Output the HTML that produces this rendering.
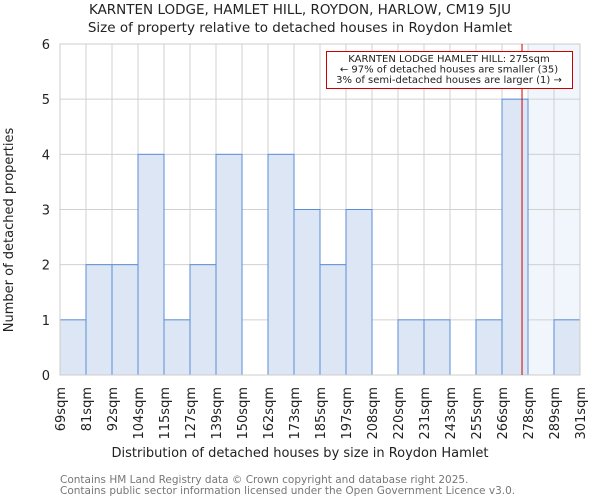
<!DOCTYPE html>
<html><head><meta charset="utf-8"><style>
body{margin:0;background:#fff;font-family:"DejaVu Sans","Liberation Sans",sans-serif;}
svg text{font-family:"DejaVu Sans","Liberation Sans",sans-serif;}
</style></head><body>
<svg id="c" width="600" height="500" xmlns="http://www.w3.org/2000/svg">
<text x="300" y="14" text-anchor="middle" font-size="13.5" fill="#222">KARNTEN LODGE, HAMLET HILL, ROYDON, HARLOW, CM19 5JU</text>
<text x="300" y="32" text-anchor="middle" font-size="13.5" fill="#222">Size of property relative to detached houses in Roydon Hamlet</text>
<g id="grid"></g>
<g id="bars"></g>
<g id="axes"></g>
<text x="300" y="457" text-anchor="middle" font-size="13" fill="#222">Distribution of detached houses by size in Roydon Hamlet</text>
<text transform="translate(13,230) rotate(-90)" text-anchor="middle" font-size="13" fill="#222">Number of detached properties</text>
<text x="60" y="483" font-size="10.5" fill="#777">Contains HM Land Registry data © Crown copyright and database right 2025.</text>
<text x="60" y="494" font-size="10.5" fill="#777">Contains public sector information licensed under the Open Government Licence v3.0.</text>
</svg>
<script>
const labels=["69sqm","81sqm","92sqm","104sqm","115sqm","127sqm","139sqm","150sqm","162sqm","173sqm","185sqm","197sqm","208sqm","220sqm","231sqm","243sqm","255sqm","266sqm","278sqm","289sqm","301sqm"];
const counts=[1,2,2,4,1,2,4,0,4,3,2,3,0,1,1,0,1,5,0,1];
const yTicks=[0,1,2,3,4,5,6];
const highlightFromBin=18;
const markerBin=17.77;
const NS="http://www.w3.org/2000/svg";
const L=60,R=580,T=44,B=375,yMax=6;
const bw=(R-L)/counts.length;
const xs=i=>L+i*bw;
const ys=v=>B-(v/yMax)*(B-T);
function mk(t,a,p){const e=document.createElementNS(NS,t);for(const k in a)e.setAttribute(k,a[k]);p.appendChild(e);return e;}
const grid=document.getElementById('grid'),bars=document.getElementById('bars'),axes=document.getElementById('axes');
const hl=mk('rect',{x:xs(highlightFromBin),y:T,width:R-xs(highlightFromBin),height:B-T,fill:'#f1f5fc'},grid);


for(let i=0;i<=counts.length;i++){mk('line',{x1:xs(i),x2:xs(i),y1:T,y2:B,stroke:'#d0d0d0','stroke-width':1},grid);}
yTicks.forEach(v=>{mk('line',{x1:L,x2:R,y1:ys(v),y2:ys(v),stroke:'#d0d0d0','stroke-width':1},grid);
const t=mk('text',{x:L-10,y:ys(v)+5,'text-anchor':'end','font-size':13,fill:'#222'},axes);t.textContent=v;

});
counts.forEach((c,i)=>{if(c<=0)return;
const r=mk('rect',{x:xs(i),y:ys(c),width:bw,height:B-ys(c),fill:'#dce6f4',stroke:'#5a8dd6','stroke-width':1},bars);

});
mk('rect',{x:L,y:T,width:R-L,height:B-T,fill:'none',stroke:'#ccc','stroke-width':1},axes);
labels.forEach((s,i)=>{const x=xs(i);
const t=mk('text',{transform:`translate(${x+5},387) rotate(-90)`,'text-anchor':'end','font-size':13,fill:'#222'},axes);t.textContent=s;

});
const mx=xs(markerBin);
const ml=mk('line',{x1:mx,x2:mx,y1:T,y2:B,stroke:'#cc0000','stroke-width':1},axes);


const g=mk('g',{},axes);


mk('rect',{x:326.5,y:51.5,width:246,height:37,fill:'#fff',stroke:'#cc0000','stroke-width':1},g);
["KARNTEN LODGE HAMLET HILL: 275sqm","← 97% of detached houses are smaller (35)","3% of semi-detached houses are larger (1) →"].forEach((s,i)=>{
const t=mk('text',{x:449,y:62+i*10.5,'text-anchor':'middle','font-size':10,fill:'#222'},g);t.textContent=s;});
</script>
</body></html>
